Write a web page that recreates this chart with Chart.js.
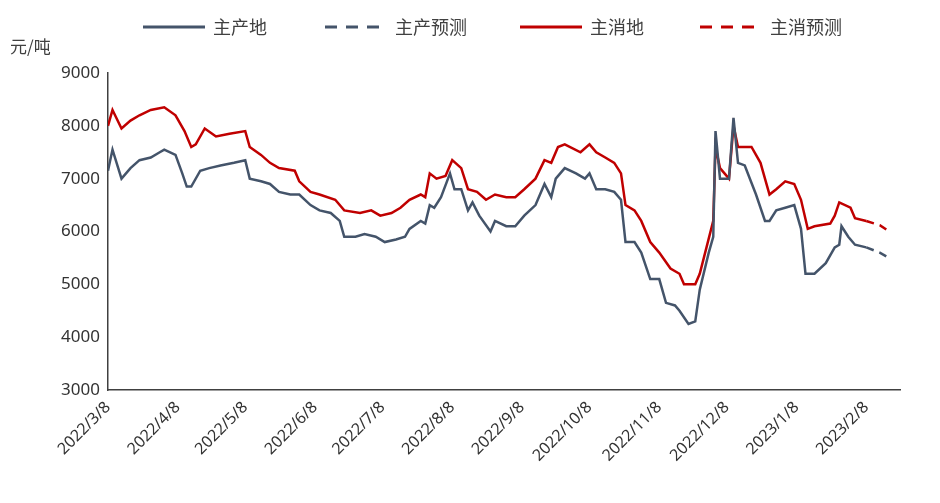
<!DOCTYPE html>
<html><head><meta charset="utf-8">
<script src="https://cdn.jsdelivr.net/npm/chart.js@4"></script>
<style>html,body{margin:0;padding:0;background:#fff}#w{width:940px;height:503px}</style>
</head><body><div id="w"><canvas id="c"></canvas></div>
<script>
const tickDays=[0,31,61,92,122,153,184,214,245,275,306,337];
const tickLabels=['2022/3/8','2022/4/8','2022/5/8','2022/6/8','2022/7/8','2022/8/8','2022/9/8','2022/10/8','2022/11/8','2022/12/8','2023/1/8','2023/2/8'];
const prodDays=[0,2,6,10,14,19,23,25,30,33,35,37,41,45,50,56,61,63,68,72,76,81,85,90,94,99,103,105,110,114,119,123,128,132,134,139,141,143,145,148,152,154,157,160,162,165,170,172,177,181,185,190,194,197,199,203,208,212,214,217,221,225,228,230,234,237,241,245,248,252,254,258,261,263,267,269,270,272,276,278,280,283,288,292,294,297,301,305,308,310,314,319,323,325,326,329,332,337];
const prodVals=[7150,7550,7000,7200,7350,7400,7500,7550,7450,7100,6850,6850,7150,7200,7250,7300,7350,7000,6950,6900,6750,6700,6700,6500,6400,6350,6200,5900,5900,5950,5900,5800,5850,5900,6050,6200,6150,6500,6450,6650,7100,6800,6800,6400,6550,6300,6000,6200,6100,6100,6300,6500,6900,6650,7000,7200,7100,7000,7100,6800,6800,6750,6600,5800,5800,5600,5100,5100,4650,4600,4500,4250,4300,4900,5600,5900,7900,7000,7000,8150,7300,7250,6700,6200,6200,6400,6450,6500,6050,5200,5200,5400,5700,5750,6100,5900,5750,5700];
const prodFcDays=[337,343,348];
const prodFcVals=[5700,5600,5480];
const consDays=[0,2,6,10,14,19,25,30,34,37,39,43,48,54,61,63,68,72,76,83,85,90,94,101,105,112,117,121,126,130,134,139,141,143,146,150,153,157,160,164,168,172,177,181,185,190,194,197,200,203,210,214,217,221,225,228,230,234,237,241,245,250,254,256,261,263,266,269,270,272,276,278,280,286,290,294,297,301,305,308,311,314,321,323,325,330,332,337];
const consVals=[8000,8300,7950,8100,8200,8300,8350,8200,7900,7600,7650,7950,7800,7850,7900,7600,7450,7300,7200,7150,6950,6750,6700,6600,6400,6350,6400,6300,6350,6450,6600,6700,6650,7100,7000,7050,7350,7200,6800,6750,6600,6700,6650,6650,6800,7000,7350,7300,7600,7650,7500,7650,7500,7400,7300,7100,6500,6400,6200,5800,5600,5300,5200,5000,5000,5200,5700,6200,7600,7200,7000,8000,7600,7600,7300,6700,6800,6950,6900,6600,6050,6100,6150,6300,6550,6450,6250,6200];
const consFcDays=[337,343,348];
const consFcVals=[6200,6120,5980];
const legendNames=['主产地','主产预测','主消地','主消预测'];
const unitLabel='元/吨';
const BLUE='#44546A',RED='#C00000';
const pts=(d,v)=>d.map((x,i)=>({x,y:v[i]}));
const legendPlugin={id:'lg',afterDraw(ch){const c=ch.ctx;c.save();
 const items=[[143,BLUE,[]],[325,BLUE,[12,9]],[520,RED,[]],[700,RED,[12,9]]];
 c.font='18px "Noto Sans CJK SC"';c.textBaseline='middle';
 items.forEach((it,i)=>{c.strokeStyle=it[1];c.lineWidth=3;c.setLineDash(it[2]);c.beginPath();c.moveTo(it[0],27);c.lineTo(it[0]+62,27);c.stroke();c.setLineDash([]);c.fillStyle='#404040';c.fillText(legendNames[i],it[0]+70,27);});
 c.font='17px "Noto Sans CJK SC"';c.fillText(unitLabel,10,47);c.restore();}};
new Chart(document.getElementById('c'),{type:'line',
data:{datasets:[
{label:legendNames[0],data:pts(prodDays,prodVals),borderColor:BLUE,borderWidth:2.5,pointRadius:0,tension:0},
{label:legendNames[1],data:pts(prodFcDays,prodFcVals),borderColor:BLUE,borderWidth:2.5,borderDash:[8,6],pointRadius:0},
{label:legendNames[2],data:pts(consDays,consVals),borderColor:RED,borderWidth:2.5,pointRadius:0,tension:0},
{label:legendNames[3],data:pts(consFcDays,consFcVals),borderColor:RED,borderWidth:2.5,borderDash:[8,6],pointRadius:0}]},
options:{responsive:true,maintainAspectRatio:false,animation:false,
layout:{padding:{top:73,right:40,left:0,bottom:0}},
plugins:{legend:{display:false},tooltip:{enabled:false}},
scales:{
x:{type:'linear',min:0,max:352,grid:{display:false,drawTicks:true,tickLength:5},border:{color:'#404040',width:1.5},
 afterBuildTicks:s=>{s.ticks=tickDays.map(v=>({value:v}));},
 afterFit:s=>{s.height=113;},
 ticks:{autoSkip:false,minRotation:45,maxRotation:45,color:'#333',font:{size:16,family:'Noto Sans'},callback:(v)=>tickLabels[tickDays.indexOf(v)]}},
y:{min:3000,max:9000,grid:{display:false,tickLength:5},border:{color:'#404040',width:1.5},
 afterFit:s=>{s.width=108;},
 ticks:{stepSize:1000,color:'#333',font:{size:17,family:'Noto Sans'},callback:v=>String(v)}}}},
plugins:[legendPlugin]});
</script></body></html>
